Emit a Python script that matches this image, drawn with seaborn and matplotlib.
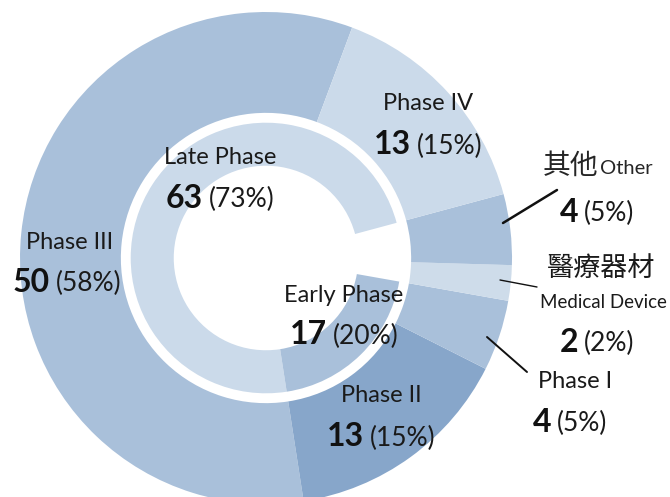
import matplotlib
matplotlib.use("Agg")
import matplotlib.pyplot as plt
import seaborn as sns
from matplotlib.offsetbox import TextArea, HPacker, AnnotationBbox

sns.set_theme(style="white")
plt.rcParams["font.family"] = ["Lato", "Noto Sans CJK TC", "DejaVu Sans"]

# outer ring, counter-clockwise from the Phase III / Phase IV boundary
outer_labels = ["Phase III", "Phase II", "Phase I", "Medical Device", "Other", "Phase IV"]
outer_values = [50, 13, 4, 2, 4, 13]
outer_colors = ["#a9c0da", "#87a6ca", "#a9c0da", "#cedcea", "#a9c0da", "#cbdaea"]

# inner ring: the last slice (Other + Medical Device) is left empty
inner_labels = ["Late Phase", "Early Phase", "gap"]
inner_values = [63, 17, 6]
inner_colors = ["#cbdaea", "#a9c0da", "white"]

total = sum(outer_values)
start = 69.5
inner_start = start - outer_values[-1] / total * 360

fig = plt.figure(figsize=(6.7, 4.97), dpi=100)
# axes box so that the ring centre lands at (266, 258) px with radius 246 px
cx, cy, R = 266, 258, 246
ax = fig.add_axes([(cx - R) / 670, (497 - cy - R) / 497, 2 * R / 670, 2 * R / 497])

ax.pie(outer_values, colors=outer_colors, startangle=start, radius=1.0,
       wedgeprops=dict(width=0.41, linewidth=0))
w_in, _ = ax.pie(inner_values, colors=inner_colors, startangle=inner_start, radius=0.55,
                 wedgeprops=dict(width=0.175, linewidth=0))
w_in[2].set_visible(False)
ax.set_xlim(-1, 1)
ax.set_ylim(-1, 1)
ax.set_aspect("equal")
ax.axis("off")


def pct(v):
    return f"({round(v / total * 100)}%)"


def put(x, y, s, size, weight="normal"):
    fig.text(x / 670, 1 - y / 497, s, fontsize=size, fontweight=weight,
             ha="center", va="center", color="#1a1a1a")


def value(x, y, v, big=23, small=19):
    box = HPacker(children=[
        TextArea(str(v), textprops=dict(fontsize=big, fontweight="bold", color="#111111")),
        TextArea(pct(v), textprops=dict(fontsize=small, color="#1a1a1a")),
    ], align="baseline", pad=0, sep=4)
    ab = AnnotationBbox(box, (x, 497 - y), xycoords="figure pixels", frameon=False,
                        box_alignment=(0.5, 0.5))
    fig.add_artist(ab)


lbl = 17
put(428, 103, "Phase IV", lbl)
value(428, 145, outer_values[5])

fig.text(570 / 670, 1 - 166 / 497, "其他", fontsize=20, ha="center", va="center")
fig.text(626 / 670, 1 - 168 / 497, "Other", fontsize=14.5, ha="center", va="center")
value(597, 212, outer_values[4])

put(601, 268, "醫療器材", 19.5)
put(603, 302, "Medical Device", 13.5)
value(597, 342, outer_values[3])

put(575, 381, "Phase I", lbl)
value(570, 422, outer_values[2])

put(381, 396, "Phase II", lbl)
value(381, 437, outer_values[1])

put(70, 242, "Phase III", lbl)
value(67, 282, outer_values[0])

put(220, 158, inner_labels[0], lbl)
value(220, 198, inner_values[0])

put(344, 295, inner_labels[1], lbl)
value(344, 335, inner_values[1])

# leader lines
for (x0, y0, x1, y1, lw) in [(503, 223, 557, 190, 1.8), (500, 280, 537, 287, 1.0),
                             (487, 337, 527, 372, 1.4)]:
    fig.add_artist(plt.Line2D([x0 / 670, x1 / 670], [1 - y0 / 497, 1 - y1 / 497],
                              color="#111111", linewidth=lw, transform=fig.transFigure))

fig.savefig("out.png", dpi=100)
